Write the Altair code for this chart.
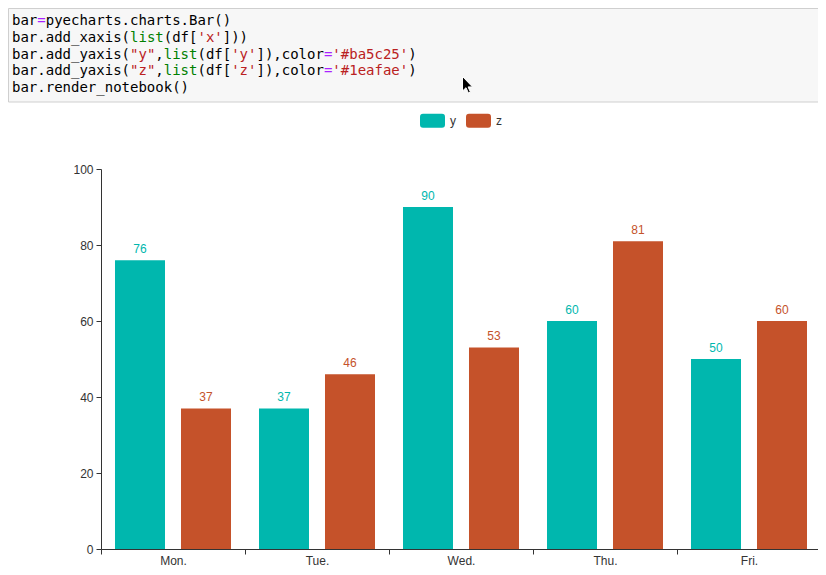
import altair as alt
import pandas as pd

# ---------------- data ----------------
days = ["Mon.", "Tue.", "Wed.", "Thu.", "Fri."]
series_names = ["y", "z"]
y_values = [76, 37, 90, 60, 50]
z_values = [37, 46, 53, 81, 60]
y_ticks = [0, 20, 40, 60, 80, 100]
series_colors = ["#00b7ae", "#c5522a"]

# notebook code cell shown above the chart: (text, token kind)
code_lines = [
    [("bar", "k"), ("=", "op"), ("pyecharts.charts.Bar()", "k")],
    [("bar.add_xaxis(", "k"), ("list", "bi"), ("(df[", "k"), ("'x'", "s"), ("]))", "k")],
    [("bar.add_yaxis(", "k"), ('"y"', "s"), (",", "k"), ("list", "bi"), ("(df[", "k"),
     ("'y'", "s"), ("]),color", "k"), ("=", "op"), ("'#ba5c25'", "s"), (")", "k")],
    [("bar.add_yaxis(", "k"), ('"z"', "s"), (",", "k"), ("list", "bi"), ("(df[", "k"),
     ("'z'", "s"), ("]),color", "k"), ("=", "op"), ("'#1eafae'", "s"), (")", "k")],
    [("bar.render_notebook()", "k")],
]
token_colors = {"k": "#000000", "op": "#aa22ff", "bi": "#008000", "s": "#ba2121"}

# ---------------- layout constants (page px) ----------------
PLOT_LEFT, PLOT_TOP = 101, 169
PLOT_W, PLOT_H = 720, 380
CHAR_W = 8.43
CODE_X0 = 12
CODE_BASE0 = 25.3
LINE_H = 16.6

rows = []
for i, line in enumerate(code_lines):
    col = 0
    for text, kind in line:
        rows.append({
            "t": text,
            "c": token_colors[kind],
            "px": CODE_X0 - PLOT_LEFT + col * CHAR_W,
            "py": CODE_BASE0 - PLOT_TOP + i * LINE_H,
        })
        col += len(text)
code_df = pd.DataFrame(rows)

one = pd.DataFrame({"a": [0]})

code_box = alt.Chart(one).mark_rect(
    fill="#f7f7f7", stroke="#cfcfcf", strokeWidth=1
).encode(
    x=alt.value(8.5 - PLOT_LEFT), x2=alt.value(826 - PLOT_LEFT),
    y=alt.value(8.5 - PLOT_TOP), y2=alt.value(102 - PLOT_TOP),
)

code_text = alt.Chart(code_df).mark_text(
    font="DejaVu Sans Mono", fontSize=14, align="left", baseline="alphabetic"
).encode(
    x=alt.X("px:Q", scale=None, axis=None),
    y=alt.Y("py:Q", scale=None, axis=None),
    text="t:N",
    color=alt.Color("c:N", scale=None),
)

cursor_path = "M0,0 L0,14.5 L3.5,11.2 L5.9,16.5 L7.9,15.6 L5.6,10.4 L10,10.4 Z"
cursor = alt.Chart(one).mark_point(
    shape=cursor_path, size=4, filled=True, fill="black", stroke="white",
    strokeWidth=1, opacity=1
).encode(x=alt.value(462.5 - PLOT_LEFT), y=alt.value(76.5 - PLOT_TOP))

# ---------------- bars ----------------
df = pd.DataFrame({
    "day": days * 2,
    "series": ["y"] * len(days) + ["z"] * len(days),
    "value": y_values + z_values,
})

legend_symbol = ("M-0.76,-0.56 L0.76,-0.56 Q1,-0.56 1,-0.32 L1,0.32 Q1,0.56 0.76,0.56 "
                 "L-0.76,0.56 Q-1,0.56 -1,0.32 L-1,-0.32 Q-1,-0.56 -0.76,-0.56 Z")

base = alt.Chart(df).encode(
    x=alt.X("day:N", sort=days, title=None,
            scale=alt.Scale(paddingInner=0, paddingOuter=0),
            axis=alt.Axis(tickBand="extent", labelAngle=0, tickSize=5,
                          domainColor="#333333", tickColor="#333333",
                          labelColor="#333333", labelFont="Liberation Sans",
                          labelFontSize=12, labelPadding=1.5, grid=False)),
    xOffset=alt.XOffset("series:N", sort=series_names,
                        scale=alt.Scale(paddingInner=0.2424, paddingOuter=0.2121)),
    y=alt.Y("value:Q", title=None, scale=alt.Scale(domain=[0, 100]),
            axis=alt.Axis(values=y_ticks, tickSize=5, domainColor="#333333",
                          tickColor="#333333", labelColor="#333333",
                          labelFont="Liberation Sans", labelFontSize=12,
                          labelPadding=3, grid=False)),
    color=alt.Color("series:N", sort=series_names,
                    scale=alt.Scale(domain=series_names, range=series_colors),
                    legend=alt.Legend(orient="none", legendX=319, legendY=-61,
                                      direction="horizontal", title=None,
                                      symbolType=legend_symbol, symbolSize=625,
                                      symbolStrokeWidth=0, symbolOpacity=1,
                                      labelFont="Liberation Sans", labelFontSize=12,
                                      labelColor="#333333", labelOffset=5,
                                      columnPadding=10, padding=0)),
)

bars = base.mark_bar()
labels = base.mark_text(
    font="Liberation Sans", fontSize=12, baseline="alphabetic", dy=-7.5
).encode(text="value:Q")

plot = alt.layer(bars, labels)

chart = alt.layer(code_box, code_text, cursor, plot).resolve_scale(
    x="independent", y="independent", color="independent"
).properties(
    width=PLOT_W, height=PLOT_H,
    autosize=alt.AutoSizeParams(type="none"),
    padding={"left": 93, "top": 161, "right": -3, "bottom": 18},
    background="white",
).configure_view(strokeWidth=0)

chart.save("out.html", embed_options={"renderer": "svg", "actions": False})
